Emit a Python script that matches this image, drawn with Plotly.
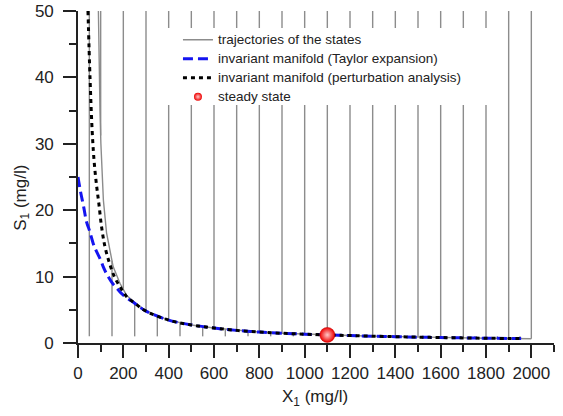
import numpy as np
import plotly.graph_objects as go

# Simulated state trajectory that lies on the slow manifold (X1, S1 in mg/l)
curve_x = [90, 93, 97, 101, 106, 112, 126, 155, 185, 214, 250, 300, 400, 500, 600, 700,
           800, 900, 1000, 1100, 1200, 1300, 1400, 1500, 1600, 1700, 1800, 1900, 2000]
curve_s = [50, 42, 35, 30, 25, 21.5, 16.6, 11.5, 9.0, 7.2, 6.1, 4.8, 3.45, 2.72, 2.26, 1.9,
           1.65, 1.47, 1.33, 1.22, 1.12, 1.03, 0.95, 0.88, 0.82, 0.77, 0.72, 0.68, 0.65]

# Initial conditions of the trajectories: started from the top (S1 = 50) ...
top_start_x = [100, 200, 300, 400, 500, 600, 700, 800, 900, 1000,
               1100, 1200, 1300, 1400, 1500, 1600, 1700, 1800, 1900, 2000]
top_start_s = 50
# ... and from the bottom (S1 = 1)
bottom_start_x = [50, 150, 250, 350, 450, 550, 650, 750, 850, 950,
                  1050, 1150, 1250, 1350, 1450, 1550, 1650, 1750, 1850, 1950]
bottom_start_s = 1.0

# Invariant manifold, Taylor expansion
taylor_x = [0, 10, 25, 38, 50, 67, 80, 100, 111, 125, 150, 175, 200, 250, 300, 400, 500,
            600, 700, 800, 900, 1000, 1100, 1200, 1300, 1400, 1500, 1600, 1700, 1800, 1900, 1955]
taylor_s = [25, 23, 20.5, 18.2, 17, 15, 13.9, 12.5, 11.5, 10.5, 9.1, 8.1, 7.2, 6.0, 4.8, 3.45,
            2.72, 2.26, 1.9, 1.65, 1.47, 1.33, 1.22, 1.12, 1.03, 0.95, 0.88, 0.82, 0.77, 0.72,
            0.68, 0.66]

# Invariant manifold, perturbation analysis
pert_x = [44, 53, 63, 72, 82, 92, 104, 119, 141, 163, 185, 214, 250, 300, 400, 500,
          600, 700, 800, 900, 1000, 1100, 1200, 1300, 1400, 1500, 1600, 1700, 1800, 1900, 1955]
pert_s = [50, 40, 31.6, 27, 23.7, 21, 17.5, 14.5, 11.8, 9.8, 8.5, 7.0, 6.0, 4.8, 3.45, 2.72,
          2.26, 1.9, 1.65, 1.47, 1.33, 1.22, 1.12, 1.03, 0.95, 0.88, 0.82, 0.77, 0.72, 0.68, 0.66]

# Steady state
steady_x = [1100]
steady_s = [1.22]

GRAY = "#8c8c8c"
AXIS = "#222222"
FONT = "Liberation Sans, Arial, sans-serif"


def legend_label(text):
    # legend rows are packed tightly; the label itself is set a bit larger
    return f'<span style="font-size:13.5px">{text}</span>'


# Build the vertical (fast) parts of the trajectories: each one runs from its
# initial condition straight to the slow manifold.
seg_x, seg_s = [], []
for x0 in top_start_x:
    seg_x += [x0, x0, None]
    seg_s += [top_start_s, float(np.interp(x0, curve_x, curve_s)), None]
for x0 in bottom_start_x:
    seg_x += [x0, x0, None]
    seg_s += [bottom_start_s, float(np.interp(x0, curve_x, curve_s)), None]
seg_x += curve_x
seg_s += curve_s

fig = go.Figure()

fig.add_trace(go.Scatter(
    x=seg_x, y=seg_s, mode="lines", connectgaps=False,
    line=dict(color=GRAY, width=1.4),
    name=legend_label("trajectories of the states")))

fig.add_trace(go.Scatter(
    x=taylor_x, y=taylor_s, mode="lines", line_shape="spline",
    line=dict(color="#1414f0", width=3, dash="10px,5px"),
    name=legend_label("invariant manifold (Taylor expansion)")))

fig.add_trace(go.Scatter(
    x=pert_x, y=pert_s, mode="lines", line_shape="spline",
    line=dict(color="black", width=3, dash="4px,4px"),
    name=legend_label("invariant manifold (perturbation analysis)")))

fig.add_trace(go.Scatter(
    x=steady_x, y=steady_s, mode="markers", showlegend=False,
    marker=dict(size=15, color="#ee0000",
                gradient=dict(type="radial", color="#ffc8c8"),
                line=dict(color="#c00000", width=0.5)),
    name="steady state"))

# smaller symbol for the legend entry
fig.add_trace(go.Scatter(
    x=[None], y=[None], mode="markers",
    marker=dict(size=8, color="#ee0000",
                gradient=dict(type="radial", color="#ffc8c8")),
    name=legend_label("steady state")))

fig.update_layout(
    width=563, height=416,
    margin=dict(l=78, r=9, t=11, b=73),
    paper_bgcolor="white", plot_bgcolor="white",
    font=dict(family=FONT, color=AXIS, size=17),
    showlegend=True,
    legend=dict(
        x=0.21, y=0.957, xanchor="left", yanchor="top",
        bgcolor="rgba(0,0,0,0)", borderwidth=0,
        font=dict(family=FONT, size=10.5, color=AXIS),
        tracegroupgap=0),
    # white panel behind the legend
    shapes=[dict(type="rect", xref="paper", yref="paper",
                 x0=0.168, x1=0.876, y0=0.717, y1=0.949,
                 fillcolor="white", line=dict(width=0), layer="above")],
    annotations=[
        dict(text="X<sub>1</sub> (mg/l)", xref="paper", yref="paper",
             x=0.498, y=-0.165, xanchor="center", yanchor="middle",
             showarrow=False, font=dict(family=FONT, size=17, color=AXIS)),
        dict(text="S<sub>1</sub> (mg/l)", xref="paper", yref="paper",
             x=-0.118, y=0.437, xanchor="center", yanchor="middle",
             textangle=-90, showarrow=False,
             font=dict(family=FONT, size=17, color=AXIS)),
    ],
)

fig.update_xaxes(
    range=[0, 2100], showgrid=False, zeroline=False, automargin=False,
    showline=True, linecolor=AXIS, linewidth=1.6,
    ticks="outside", ticklen=13, tickwidth=1.5, tickcolor=AXIS,
    tick0=0, dtick=200, ticklabelstandoff=1,
    minor=dict(ticks="outside", ticklen=7, tickwidth=1.5, tickcolor=AXIS, dtick=100, tick0=0),
)
fig.update_yaxes(
    range=[0, 50], showgrid=False, zeroline=False, automargin=False,
    showline=True, linecolor=AXIS, linewidth=1.6,
    ticks="outside", ticklen=13, tickwidth=1.5, tickcolor=AXIS,
    tick0=0, dtick=10, ticklabelstandoff=6,
    minor=dict(ticks="outside", ticklen=7, tickwidth=1.5, tickcolor=AXIS, dtick=5, tick0=0),
)

fig.write_html("out.html")
